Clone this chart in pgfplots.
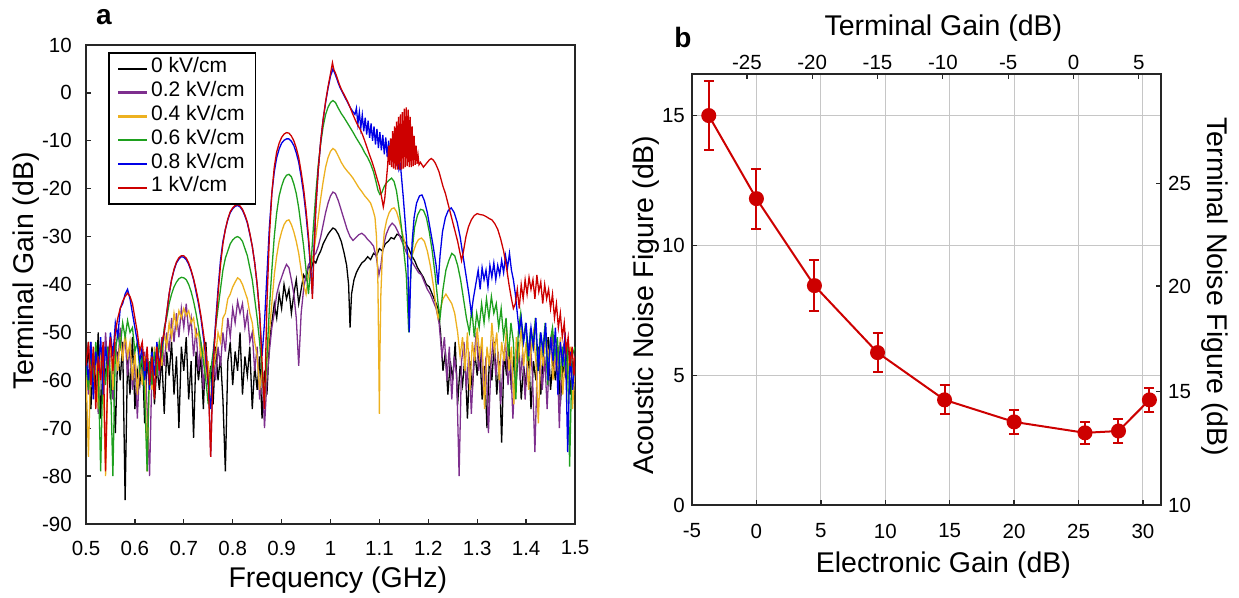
\documentclass[border=0pt]{standalone}
\usepackage{fontspec}
\setmainfont{Liberation Sans}
\usepackage{pgfplots}
\pgfplotsset{compat=1.18}

\definecolor{cK}{RGB}{0,0,0}
\definecolor{cP}{RGB}{126,47,142}
\definecolor{cY}{RGB}{237,177,32}
\definecolor{cG}{RGB}{30,160,30}
\definecolor{cB}{RGB}{0,0,230}
\definecolor{cR}{RGB}{205,0,0}
\definecolor{axc}{RGB}{38,38,38}

\newcommand{\tickfont}{\fontsize{20.5}{24}\selectfont}
\newcommand{\labfont}{\fontsize{28.5}{32}\selectfont}

\pgfplotsset{
  /pgf/number format/assume math mode=true,
  every axis/.append style={
    scale only axis,
    tick align=inside,
    major tick length=5pt,
    every tick/.style={axc, line width=1.3pt},
    ticklabel style={font=\tickfont},
    label style={font=\labfont},
  },
}

\begin{document}
\begin{tikzpicture}
\useasboundingbox (0pt,0pt) rectangle (1239pt,-597pt);

% ---------------- panel a ----------------
\begin{axis}[
  at={(86pt,-524pt)}, anchor=south west,
  width=489pt, height=479pt,
  xmin=0.5, xmax=1.5, ymin=-90, ymax=10,
  xtick={0.5,0.6,0.7,0.8,0.9,1,1.1,1.2,1.3,1.4,1.5},
  ytick={-90,-80,-70,-60,-50,-40,-30,-20,-10,0,10},
  xtick pos=left, ytick pos=left,
  axis line style={axc, line width=1.8pt},
  xticklabel style={anchor=center, yshift=-24pt},
  yticklabel style={anchor=east, inner sep=0pt, xshift=-14pt},
  xlabel={Frequency (GHz)},
  ylabel={Terminal Gain (dB)},
  xlabel style={at={(axis description cs:0.515,-0.117)}, anchor=center},
  ylabel style={at={(axis description cs:-0.1227,0.528)}, anchor=center},
  legend cell align=left,
  legend style={at={(0.045,0.985)}, anchor=north west, draw=black, line width=1.6pt,
    font=\fontsize{21}{24}\selectfont, inner xsep=8pt, inner ysep=4pt, row sep=0pt,
    nodes={inner xsep=3pt, inner ysep=0pt, text height=16pt, text depth=7.8pt}},
  legend image code/.code={\draw[#1, line width=2.4pt] (0pt,0pt) -- (29pt,0pt);},
  every axis plot/.append style={line width=1.3pt},
]
% 0 kV/cm
\addplot[cK] coordinates {
(0.500,-60)(0.505,-52)(0.510,-66)(0.515,-55)(0.520,-62)(0.525,-50)(0.530,-68)(0.535,-56)(0.540,-59)(0.545,-53)
(0.550,-64)(0.555,-57)(0.560,-71)(0.565,-54)(0.570,-60)(0.575,-52)(0.580,-85)(0.585,-55)(0.590,-63)(0.595,-51)
(0.600,-66)(0.605,-58)(0.610,-61)(0.615,-54)(0.620,-69)(0.625,-56)(0.630,-60)(0.635,-53)(0.640,-65)(0.645,-57)
(0.650,-62)(0.655,-55)(0.660,-67)(0.665,-54)(0.670,-59)(0.675,-52)(0.680,-63)(0.685,-55)(0.690,-70)(0.695,-53)
(0.700,-58)(0.705,-51)(0.710,-64)(0.715,-56)(0.720,-72)(0.725,-54)(0.730,-60)(0.735,-55)(0.740,-66)(0.745,-52)
(0.750,-61)(0.755,-57)(0.760,-65)(0.765,-53)(0.770,-60)(0.775,-55)(0.780,-64)(0.785,-79)(0.790,-56)(0.795,-52)
(0.800,-61)(0.805,-54)(0.810,-58)(0.815,-50)(0.820,-63)(0.825,-55)(0.830,-59)(0.835,-53)(0.840,-66)(0.845,-57)
(0.850,-62)(0.855,-55)(0.860,-68)(0.865,-58)(0.870,-63)(0.875,-52)(0.880,-48)(0.885,-44)(0.890,-47)(0.895,-42)
(0.900,-45)(0.905,-40)(0.910,-43)(0.915,-41)(0.920,-46)(0.925,-42)(0.930,-39)(0.935,-44)(0.940,-41)(0.945,-38)
(0.950,-39)(0.955,-36)(0.960,-37)(0.965,-35)(0.970,-35.5)(0.975,-34)(0.980,-33)(0.985,-31.5)(0.990,-30.5)(0.995,-29.5)
(1.000,-28.8)(1.005,-28.2)(1.010,-28.5)(1.016,-29.5)(1.022,-31)(1.028,-33.5)(1.033,-36)(1.037,-40)(1.040,-49)(1.043,-42)
(1.048,-39)(1.053,-37.5)(1.058,-36.5)(1.064,-35.5)(1.070,-35)(1.076,-34.2)(1.082,-34.8)(1.088,-33.5)(1.094,-34)(1.100,-32.5)
(1.106,-33)(1.112,-31.5)(1.118,-31)(1.124,-30.2)(1.130,-30.5)(1.136,-29.5)(1.142,-29.8)(1.148,-30.5)(1.154,-31.5)(1.160,-32.5)
(1.166,-34)(1.172,-35)(1.178,-36.5)(1.184,-37.5)(1.190,-38.5)(1.196,-40)(1.202,-40.5)(1.208,-42)(1.214,-43.5)(1.220,-45)
(1.225,-50)(1.230,-58)(1.235,-54)(1.240,-63)(1.245,-56)(1.250,-60)(1.255,-52)(1.260,-65)(1.265,-57)(1.270,-61)
(1.275,-55)(1.280,-68)(1.285,-56)(1.290,-62)(1.295,-54)(1.300,-59)(1.305,-53)(1.310,-64)(1.315,-57)(1.320,-70)
(1.325,-55)(1.330,-60)(1.335,-52)(1.340,-63)(1.345,-56)(1.350,-73)(1.355,-54)(1.360,-59)(1.365,-53)(1.370,-62)
(1.375,-55)(1.380,-60)(1.385,-52)(1.390,-64)(1.395,-57)(1.400,-61)(1.405,-54)(1.410,-66)(1.415,-56)(1.420,-60)
(1.425,-53)(1.430,-63)(1.435,-55)(1.440,-58)(1.445,-51)(1.450,-62)(1.455,-56)(1.460,-60)(1.465,-53)(1.470,-65)
(1.475,-57)(1.480,-59)(1.485,-52)(1.490,-63)(1.495,-56)(1.500,-60)
};
\addlegendentry{0 kV/cm}
% 0.2 kV/cm
\addplot[cP] coordinates {
(0.500,-56)(0.505,-63)(0.510,-52)(0.515,-60)(0.520,-54)(0.525,-67)(0.530,-55)(0.535,-61)(0.540,-50)(0.545,-58)
(0.550,-53)(0.555,-64)(0.560,-52)(0.565,-57)(0.570,-49)(0.575,-55)(0.580,-51)(0.585,-59)(0.590,-53)(0.595,-62)
(0.600,-55)(0.605,-68)(0.610,-56)(0.615,-60)(0.620,-54)(0.625,-66)(0.630,-80)(0.635,-57)(0.640,-62)(0.645,-53)
(0.650,-59)(0.655,-51)(0.660,-57)(0.665,-50)(0.670,-54)(0.675,-47)(0.680,-52)(0.685,-46)(0.690,-51)(0.695,-45)
(0.700,-49)(0.705,-44)(0.710,-50)(0.715,-47)(0.720,-55)(0.725,-49)(0.730,-58)(0.735,-52)(0.740,-62)(0.745,-54)
(0.750,-59)(0.755,-76)(0.760,-56)(0.765,-60)(0.770,-53)(0.775,-57)(0.780,-50)(0.785,-54)(0.790,-47)(0.795,-51)
(0.800,-45)(0.805,-48)(0.810,-43.5)(0.815,-46)(0.820,-44)(0.825,-49)(0.830,-46)(0.835,-52)(0.840,-50)(0.845,-58)
(0.850,-53)(0.855,-64)(0.860,-57)(0.865,-70)(0.870,-60)(0.875,-54)(0.880,-49)(0.885,-46)(0.890,-42)(0.895,-40)
(0.900,-38.5)(0.905,-37)(0.910,-35.8)(0.915,-36.5)(0.920,-39)(0.925,-42)(0.930,-47)(0.935,-57)(0.940,-46)(0.945,-41)
(0.950,-38)(0.955,-36)(0.960,-35)(0.965,-34)(0.970,-33.5)(0.975,-32)(0.980,-30)(0.985,-27.5)(0.990,-25)(0.995,-23)
(1.000,-21.5)(1.005,-20.7)(1.010,-21)(1.016,-22.5)(1.022,-24.5)(1.028,-26.5)(1.034,-28.5)(1.040,-30)(1.046,-30.8)(1.052,-30.2)
(1.058,-29.6)(1.064,-29.3)(1.070,-29.8)(1.076,-30.6)(1.082,-31.2)(1.088,-32)(1.094,-34.5)(1.099,-38)(1.103,-36)(1.108,-32)
(1.114,-29.5)(1.120,-28)(1.126,-27.2)(1.132,-27.8)(1.138,-29)(1.144,-30.5)(1.150,-32)(1.156,-33.5)(1.162,-34.5)(1.168,-35.5)
(1.174,-36.5)(1.180,-37.5)(1.186,-38)(1.192,-39.5)(1.198,-41)(1.204,-42)(1.210,-43.5)(1.216,-45)(1.222,-48)(1.228,-55)
(1.233,-51)(1.238,-60)(1.243,-53)(1.248,-64)(1.253,-55)(1.258,-59)(1.263,-80)(1.268,-56)(1.273,-52)(1.278,-62)
(1.283,-54)(1.288,-67)(1.293,-56)(1.298,-50)(1.303,-58)(1.308,-53)(1.313,-63)(1.318,-55)(1.323,-71)(1.328,-57)
(1.333,-51)(1.338,-59)(1.343,-54)(1.348,-65)(1.353,-56)(1.358,-52)(1.363,-61)(1.368,-55)(1.373,-68)(1.378,-57)
(1.383,-52)(1.388,-60)(1.393,-54)(1.398,-64)(1.403,-55)(1.408,-51)(1.413,-59)(1.418,-75)(1.423,-56)(1.428,-53)
(1.433,-62)(1.438,-55)(1.443,-66)(1.448,-54)(1.453,-50)(1.458,-58)(1.463,-53)(1.468,-70)(1.473,-55)(1.478,-52)
(1.483,-61)(1.488,-54)(1.493,-59)(1.498,-56)(1.500,-60)
};
\addlegendentry{0.2 kV/cm}
% 0.4 kV/cm
\addplot[cY] coordinates {
(0.500,-58)(0.505,-76)(0.510,-54)(0.515,-61)(0.520,-55)(0.525,-66)(0.530,-53)(0.535,-59)(0.540,-80)(0.545,-57)
(0.550,-52)(0.555,-62)(0.560,-54)(0.565,-58)(0.570,-51)(0.575,-56)(0.580,-50)(0.585,-55)(0.590,-52)(0.595,-60)
(0.600,-54)(0.605,-63)(0.610,-56)(0.615,-61)(0.620,-55)(0.625,-79)(0.630,-57)(0.635,-62)(0.640,-53)(0.645,-59)
(0.650,-52)(0.655,-57)(0.660,-50)(0.665,-53)(0.670,-48)(0.675,-51)(0.680,-46)(0.685,-49)(0.690,-45.5)(0.695,-47)
(0.700,-45)(0.705,-46.5)(0.710,-45.5)(0.715,-48)(0.720,-47)(0.725,-51)(0.730,-50)(0.735,-55)(0.740,-53)(0.745,-60)
(0.750,-56)(0.755,-66)(0.760,-58)(0.765,-55)(0.770,-50)(0.775,-52)(0.780,-47)(0.785,-46)(0.790,-43)(0.795,-42)
(0.800,-40.5)(0.805,-39.5)(0.810,-38.6)(0.815,-39)(0.820,-40)(0.825,-41.5)(0.830,-43)(0.835,-46)(0.840,-48)(0.845,-52)
(0.850,-55)(0.855,-62)(0.860,-58)(0.865,-64)(0.870,-56)(0.875,-50)(0.880,-44)(0.885,-38)(0.890,-34)(0.895,-31)
(0.900,-29)(0.905,-27.5)(0.910,-26.7)(0.915,-26.5)(0.920,-27.5)(0.925,-29)(0.930,-31)(0.935,-33.5)(0.940,-37)(0.945,-40)
(0.950,-42)(0.955,-38)(0.960,-36)(0.965,-34)(0.970,-30)(0.975,-26)(0.980,-22)(0.985,-18.5)(0.990,-15.5)(0.995,-13.5)
(1.000,-12.2)(1.005,-11.6)(1.010,-12)(1.016,-13.2)(1.022,-14.5)(1.028,-15.5)(1.034,-16.3)(1.040,-17)(1.046,-17.8)(1.052,-18.8)
(1.058,-19.8)(1.064,-20.6)(1.070,-21.5)(1.076,-22.2)(1.082,-23)(1.087,-24.5)(1.091,-26)(1.094,-30)(1.097,-40)(1.099,-58)
(1.100,-67)(1.101,-55)(1.103,-42)(1.106,-34)(1.110,-29)(1.115,-26.5)(1.120,-25)(1.125,-24.2)(1.130,-24)(1.135,-24.8)
(1.140,-26.5)(1.145,-28.5)(1.150,-30.5)(1.155,-32.5)(1.160,-34)(1.165,-34.5)(1.170,-33)(1.175,-31.5)(1.180,-30.6)(1.186,-30.3)
(1.192,-31)(1.198,-33)(1.204,-36)(1.210,-40)(1.215,-44)(1.220,-47)(1.225,-45)(1.230,-43)(1.236,-42)(1.242,-43)
(1.248,-44)(1.254,-46)(1.260,-50)(1.265,-55)(1.270,-51)(1.275,-58)(1.280,-50)(1.285,-62)(1.290,-52)(1.295,-56)
(1.300,-49)(1.305,-55)(1.310,-51)(1.315,-66)(1.320,-53)(1.325,-57)(1.330,-48)(1.335,-54)(1.340,-50)(1.345,-60)
(1.350,-52)(1.355,-56)(1.360,-49)(1.365,-58)(1.370,-53)(1.375,-65)(1.380,-51)(1.385,-55)(1.390,-49)(1.395,-57)
(1.400,-52)(1.405,-62)(1.410,-54)(1.415,-50)(1.420,-56)(1.425,-69)(1.430,-53)(1.435,-57)(1.440,-50)(1.445,-55)
(1.450,-52)(1.455,-60)(1.460,-54)(1.465,-58)(1.470,-51)(1.475,-63)(1.480,-55)(1.485,-59)(1.490,-53)(1.495,-66)
(1.500,-57)
};
\addlegendentry{0.4 kV/cm}
% 0.6 kV/cm
\addplot[cG] coordinates {
(0.500,-57)(0.505,-62)(0.510,-54)(0.515,-60)(0.520,-52)(0.525,-58)(0.530,-79)(0.535,-55)(0.540,-61)(0.545,-53)
(0.550,-59)(0.555,-80)(0.560,-54)(0.565,-50)(0.570,-53)(0.575,-48)(0.580,-51)(0.585,-47.5)(0.590,-50)(0.595,-49)
(0.600,-54)(0.605,-52)(0.610,-58)(0.615,-55)(0.620,-63)(0.625,-79)(0.630,-56)(0.635,-61)(0.640,-54)(0.645,-59)
(0.650,-52)(0.655,-55)(0.660,-49)(0.665,-47)(0.670,-44)(0.675,-42)(0.680,-40.5)(0.685,-39.5)(0.690,-38.8)(0.695,-38.5)
(0.700,-38.6)(0.705,-39)(0.710,-40)(0.715,-41.5)(0.720,-43.5)(0.725,-46)(0.730,-49)(0.735,-52)(0.740,-56)(0.745,-60)
(0.750,-65)(0.755,-58)(0.760,-54)(0.765,-49)(0.770,-45)(0.775,-41)(0.780,-37)(0.785,-34.5)(0.790,-33)(0.795,-31.5)
(0.800,-30.7)(0.805,-30.2)(0.810,-30)(0.815,-30.3)(0.820,-31)(0.825,-32.5)(0.830,-34)(0.835,-36.5)(0.840,-39)(0.845,-43)
(0.850,-47)(0.855,-52)(0.860,-58)(0.865,-64)(0.870,-55)(0.875,-45)(0.880,-37)(0.885,-30)(0.890,-25)(0.895,-21.5)
(0.900,-19.5)(0.905,-18)(0.910,-17.2)(0.915,-17)(0.920,-17.5)(0.925,-19)(0.930,-21)(0.935,-24)(0.940,-28)(0.945,-32)
(0.950,-37)(0.955,-42)(0.960,-36)(0.965,-28)(0.970,-21)(0.975,-15)(0.980,-10.5)(0.985,-7)(0.990,-4.5)(0.995,-3)
(1.000,-2)(1.005,-1.6)(1.010,-2)(1.016,-3.2)(1.022,-4.3)(1.028,-5.2)(1.034,-6.2)(1.040,-7.2)(1.046,-8.2)(1.052,-9.3)
(1.058,-10.3)(1.064,-11.3)(1.070,-12.5)(1.076,-13.5)(1.082,-14.8)(1.088,-16.5)(1.093,-18.5)(1.097,-20.3)(1.101,-21.2)(1.105,-20.8)
(1.110,-19.5)(1.115,-18.7)(1.120,-18.2)(1.125,-17.8)(1.130,-18.5)(1.135,-20.5)(1.140,-24)(1.145,-28)(1.150,-33)(1.155,-38)
(1.160,-50)(1.163,-40)(1.167,-33)(1.172,-28)(1.178,-25.5)(1.184,-24.3)(1.190,-24.5)(1.196,-26)(1.202,-29)(1.208,-33)
(1.214,-38)(1.220,-44)(1.224,-47)(1.230,-41)(1.236,-37)(1.242,-35)(1.248,-33.5)(1.254,-34)(1.260,-36)(1.266,-39)
(1.272,-43)(1.278,-47)(1.284,-50)(1.289,-45)(1.294,-51)(1.299,-46)(1.304,-49)(1.309,-44)(1.314,-48)(1.319,-43)
(1.324,-47)(1.329,-42.5)(1.334,-46)(1.339,-44)(1.344,-49)(1.349,-45)(1.354,-51)(1.359,-47)(1.364,-55)(1.369,-48)
(1.374,-52)(1.379,-64)(1.384,-50)(1.389,-46)(1.394,-52)(1.399,-48)(1.404,-56)(1.409,-49)(1.414,-53)(1.419,-47)
(1.424,-58)(1.429,-50)(1.434,-54)(1.439,-48)(1.444,-61)(1.449,-52)(1.454,-49)(1.459,-55)(1.464,-51)(1.469,-60)
(1.474,-53)(1.479,-57)(1.484,-52)(1.489,-78)(1.494,-55)(1.500,-53)
};
\addlegendentry{0.6 kV/cm}
% 0.8 kV/cm
\addplot[cB] coordinates {
(0.500,-55)(0.505,-60)(0.510,-52)(0.515,-64)(0.520,-54)(0.525,-58)(0.530,-51)(0.535,-63)(0.540,-53)(0.545,-57)
(0.550,-50)(0.555,-55)(0.560,-48)(0.565,-51)(0.570,-45)(0.575,-44)(0.580,-42)(0.585,-41)(0.590,-43)(0.595,-46)
(0.600,-49)(0.605,-52)(0.610,-56)(0.615,-53)(0.620,-60)(0.625,-55)(0.630,-62)(0.635,-54)(0.640,-59)(0.645,-52)
(0.650,-57)(0.655,-53)(0.660,-50)(0.665,-46)(0.670,-42)(0.675,-39)(0.680,-37)(0.685,-35.5)(0.690,-34.7)(0.695,-34.2)
(0.700,-34.3)(0.705,-34.8)(0.710,-35.8)(0.715,-37.2)(0.720,-39)(0.725,-41.5)(0.730,-44)(0.735,-47)(0.740,-51)(0.745,-55)
(0.750,-61)(0.755,-66)(0.760,-56)(0.765,-48)(0.770,-41)(0.775,-35)(0.780,-31)(0.785,-28.5)(0.790,-26.5)(0.795,-25)
(0.800,-24.2)(0.805,-23.7)(0.810,-23.5)(0.815,-23.8)(0.820,-24.5)(0.825,-25.7)(0.830,-27.2)(0.835,-29.5)(0.840,-32)(0.845,-35.5)
(0.850,-40)(0.855,-46)(0.860,-55)(0.865,-48)(0.870,-38)(0.875,-28)(0.880,-21)(0.885,-16.5)(0.890,-13.5)(0.895,-11.7)
(0.900,-10.5)(0.905,-9.9)(0.910,-9.6)(0.915,-9.6)(0.920,-10.1)(0.925,-11)(0.930,-12.5)(0.935,-14.5)(0.940,-17.5)(0.945,-21)
(0.950,-25.5)(0.955,-31)(0.960,-38)(0.963,-42)(0.966,-33)(0.970,-24)(0.975,-16)(0.980,-10)(0.985,-5.5)(0.990,-2)
(0.995,1)(1.000,3.5)(1.005,5)(1.008,4.3)(1.012,3.2)(1.016,2)(1.020,1)(1.025,0)(1.030,-1)(1.035,-2)
(1.040,-3)(1.045,-3.8)(1.050,-4.5)(1.053,-3.2)(1.056,-6.5)(1.059,-4)(1.062,-7.3)(1.065,-4.6)(1.068,-8)(1.071,-5.2)
(1.074,-8.7)(1.077,-5.8)(1.080,-9.4)(1.083,-6.4)(1.086,-10)(1.089,-7)(1.092,-10.8)(1.095,-7.5)(1.098,-11.5)(1.101,-8.2)
(1.104,-12)(1.107,-8.8)(1.110,-12.8)(1.113,-9.3)(1.116,-13.4)(1.119,-10)(1.122,-14)(1.125,-10.6)(1.128,-14.5)(1.131,-11.5)
(1.134,-15.2)(1.137,-12.5)(1.140,-16)(1.143,-15)(1.146,-18.5)(1.149,-22)(1.152,-26)(1.155,-30)(1.158,-35)(1.161,-50)
(1.164,-38)(1.167,-31)(1.171,-26)(1.176,-23)(1.182,-21.5)(1.187,-21.3)(1.192,-22.5)(1.198,-25)(1.204,-28.5)(1.210,-32)
(1.216,-36)(1.220,-40)(1.224,-34)(1.229,-29)(1.235,-26)(1.241,-24.5)(1.247,-24)(1.253,-25)(1.259,-27)(1.265,-30)
(1.271,-34)(1.277,-38)(1.283,-42)(1.288,-46)(1.292,-43)(1.297,-40)(1.302,-37)(1.306,-41)(1.310,-36.5)(1.314,-39)
(1.318,-37)(1.322,-40.5)(1.326,-36)(1.330,-38.5)(1.334,-35.5)(1.338,-39)(1.342,-36)(1.346,-38)(1.350,-35)(1.354,-37.5)
(1.358,-34)(1.362,-36.5)(1.366,-33.5)(1.370,-37)(1.374,-39)(1.378,-42)(1.382,-46)(1.386,-50)(1.390,-47)(1.395,-52)
(1.400,-48)(1.405,-55)(1.410,-49)(1.415,-53)(1.420,-47)(1.425,-58)(1.430,-50)(1.435,-54)(1.440,-48)(1.445,-60)
(1.450,-51)(1.455,-56)(1.460,-49)(1.465,-63)(1.470,-52)(1.475,-57)(1.480,-50)(1.485,-75)(1.490,-54)(1.495,-62)
(1.500,-56)
};
\addlegendentry{0.8 kV/cm}
% 1 kV/cm
\addplot[cR] coordinates {
(0.500,-57)(0.505,-52)(0.510,-61)(0.515,-53)(0.520,-66)(0.525,-55)(0.530,-60)(0.535,-52)(0.540,-79)(0.545,-56)
(0.550,-51)(0.555,-58)(0.560,-50)(0.565,-47)(0.570,-45)(0.575,-43.5)(0.580,-42.5)(0.585,-41.8)(0.590,-42.5)(0.595,-44)
(0.600,-47)(0.605,-50)(0.610,-54)(0.615,-52)(0.620,-58)(0.625,-53)(0.630,-61)(0.635,-55)(0.640,-64)(0.645,-53)
(0.650,-58)(0.655,-52)(0.660,-50)(0.665,-46)(0.670,-42)(0.675,-39)(0.680,-36.8)(0.685,-35.3)(0.690,-34.4)(0.695,-34)
(0.700,-34)(0.705,-34.5)(0.710,-35.5)(0.715,-37)(0.720,-38.8)(0.725,-41)(0.730,-43.5)(0.735,-46.5)(0.740,-50)(0.745,-54)
(0.750,-60)(0.755,-76)(0.760,-57)(0.765,-49)(0.770,-42)(0.775,-36)(0.780,-31.5)(0.785,-28.5)(0.790,-26.3)(0.795,-24.8)
(0.800,-24)(0.805,-23.5)(0.810,-23.3)(0.815,-23.6)(0.820,-24.3)(0.825,-25.5)(0.830,-27)(0.835,-29.3)(0.840,-32)(0.845,-35.5)
(0.850,-40)(0.855,-46)(0.860,-56)(0.865,-66)(0.870,-44)(0.875,-30)(0.880,-21)(0.885,-15.5)(0.890,-12.3)(0.895,-10.5)
(0.900,-9.3)(0.905,-8.6)(0.910,-8.3)(0.915,-8.4)(0.920,-9)(0.925,-10)(0.930,-11.5)(0.935,-13.5)(0.940,-16.5)(0.945,-20)
(0.950,-24.5)(0.955,-30)(0.960,-37)(0.963,-43)(0.966,-34)(0.970,-24)(0.975,-16)(0.980,-10)(0.985,-5.5)(0.990,-1.8)
(0.995,1.3)(1.000,4)(1.004,6.3)(1.007,4.8)(1.010,4.2)(1.014,3)(1.018,1.8)(1.022,0.8)(1.026,0)(1.030,-0.8)
(1.035,-1.8)(1.040,-3)(1.045,-4.3)(1.050,-5.5)(1.055,-6.6)(1.060,-7.5)(1.065,-8.6)(1.070,-10)(1.075,-11.5)(1.080,-13)
(1.085,-14.4)(1.090,-16)(1.095,-17.8)(1.100,-19.5)(1.104,-21.5)(1.108,-23.8)(1.111,-22)(1.114,-18.5)(1.117,-15)(1.119,-11)
(1.121,-15)(1.123,-9.5)(1.125,-15.5)(1.127,-8)(1.129,-15.8)(1.131,-7)(1.133,-16)(1.135,-6)(1.137,-16)(1.139,-5)
(1.141,-16)(1.143,-4.5)(1.145,-16)(1.147,-4)(1.149,-15.8)(1.151,-3.3)(1.153,-15.5)(1.155,-3)(1.157,-15.3)(1.159,-3.5)
(1.161,-15.5)(1.163,-5)(1.165,-15.5)(1.167,-7)(1.169,-15.3)(1.171,-9)(1.173,-15)(1.175,-11)(1.177,-14.8)(1.179,-13)
(1.181,-15)(1.184,-14.5)(1.187,-15)(1.190,-15.5)(1.194,-15)(1.198,-14.5)(1.202,-14)(1.206,-13.7)(1.210,-14)(1.214,-14.6)
(1.218,-15.5)(1.222,-16.5)(1.226,-18)(1.230,-19.5)(1.235,-21)(1.240,-23)(1.245,-25)(1.250,-27)(1.255,-29)(1.260,-31)
(1.265,-33.5)(1.268,-35)(1.272,-33)(1.277,-30)(1.282,-28)(1.288,-26.5)(1.294,-25.6)(1.300,-25.2)(1.306,-25.4)(1.312,-25.5)
(1.318,-25.8)(1.324,-26.2)(1.330,-26.5)(1.336,-27.3)(1.342,-28.5)(1.348,-30.5)(1.354,-33)(1.360,-36.5)(1.365,-40)(1.370,-43)
(1.374,-45)(1.378,-44)(1.382,-41)(1.386,-45)(1.390,-40)(1.394,-43)(1.398,-39)(1.402,-42)(1.406,-38.5)(1.410,-41)
(1.414,-39)(1.418,-43)(1.422,-38)(1.426,-41.5)(1.430,-39.5)(1.434,-44)(1.438,-40)(1.442,-43)(1.446,-41)(1.450,-45)
(1.454,-42)(1.458,-47)(1.462,-44)(1.466,-49)(1.470,-46)(1.474,-51)(1.478,-48)(1.482,-54)(1.486,-51)(1.490,-57)
(1.494,-53)(1.498,-59)(1.500,-55)
};
\addlegendentry{1 kV/cm}
\end{axis}
\node[font=\bfseries\fontsize{28}{30}\selectfont, anchor=center] at (104pt,-17.5pt) {a};

% ---------------- panel b ----------------
\begin{axis}[
  at={(692pt,-505pt)}, anchor=south west,
  width=469pt, height=431pt,
  xmin=-5, xmax=31.4, ymin=0, ymax=16.6,
  xtick={-5,0,5,10,15,20,25,30}, ytick={0,5,10,15},
  xtick pos=left, ytick pos=left,
  grid=major, grid style={gray!45, line width=1pt},
  axis line style={axc, line width=2.2pt},
  xticklabel style={anchor=center, yshift=-26pt},
  yticklabel style={anchor=east, inner sep=0pt, xshift=-7pt},
  xlabel={Electronic Gain (dB)},
  ylabel={Acoustic Noise Figure (dB)},
  xlabel style={at={(axis description cs:0.536,-0.139)}, anchor=center},
  ylabel style={at={(axis description cs:-0.098,0.464)}, anchor=center},
]
\addplot[cR, line width=2pt, mark=*, mark size=6.5pt,
  error bars/.cd, y dir=both, y explicit,
  error bar style={line width=2pt},
  error mark options={rotate=90, mark size=5pt, line width=2pt}]
  table[x=x, y=y, y error=e] {
x     y     e
-3.7  15.0  1.33
0.0   11.8  1.16
4.5   8.45  0.97
9.4   5.87  0.75
14.6  4.05  0.56
20.0  3.2   0.46
25.5  2.78  0.43
28.1  2.85  0.47
30.5  4.05  0.46
};
\end{axis}
\begin{axis}[
  at={(692pt,-505pt)}, anchor=south west,
  width=469pt, height=431pt,
  xmin=-29.2, xmax=6.7, ymin=0, ymax=16.6,
  xtick={-25,-20,-15,-10,-5,0,5},
  ytick={0,4.36,8.43,12.39}, yticklabels={10,15,20,25},
  xtick pos=right, ytick pos=right,
  xticklabel pos=right, yticklabel pos=right,
  axis line style={axc, line width=2.2pt},
  xticklabel style={anchor=center, yshift=11.7pt},
  yticklabel style={anchor=west, inner sep=0pt, xshift=7pt},
  xlabel={Terminal Gain (dB)},
  ylabel={Terminal Noise Figure (dB)},
  xlabel style={at={(axis description cs:0.536,1.107)}, anchor=center},
  ylabel style={at={(axis description cs:1.115,0.506)}, anchor=center, rotate=180},
]
\addplot[draw=none] coordinates {(0,0)};
\end{axis}
\node[font=\bfseries\fontsize{28}{30}\selectfont, anchor=center] at (683pt,-37pt) {b};
\end{tikzpicture}
\end{document}
